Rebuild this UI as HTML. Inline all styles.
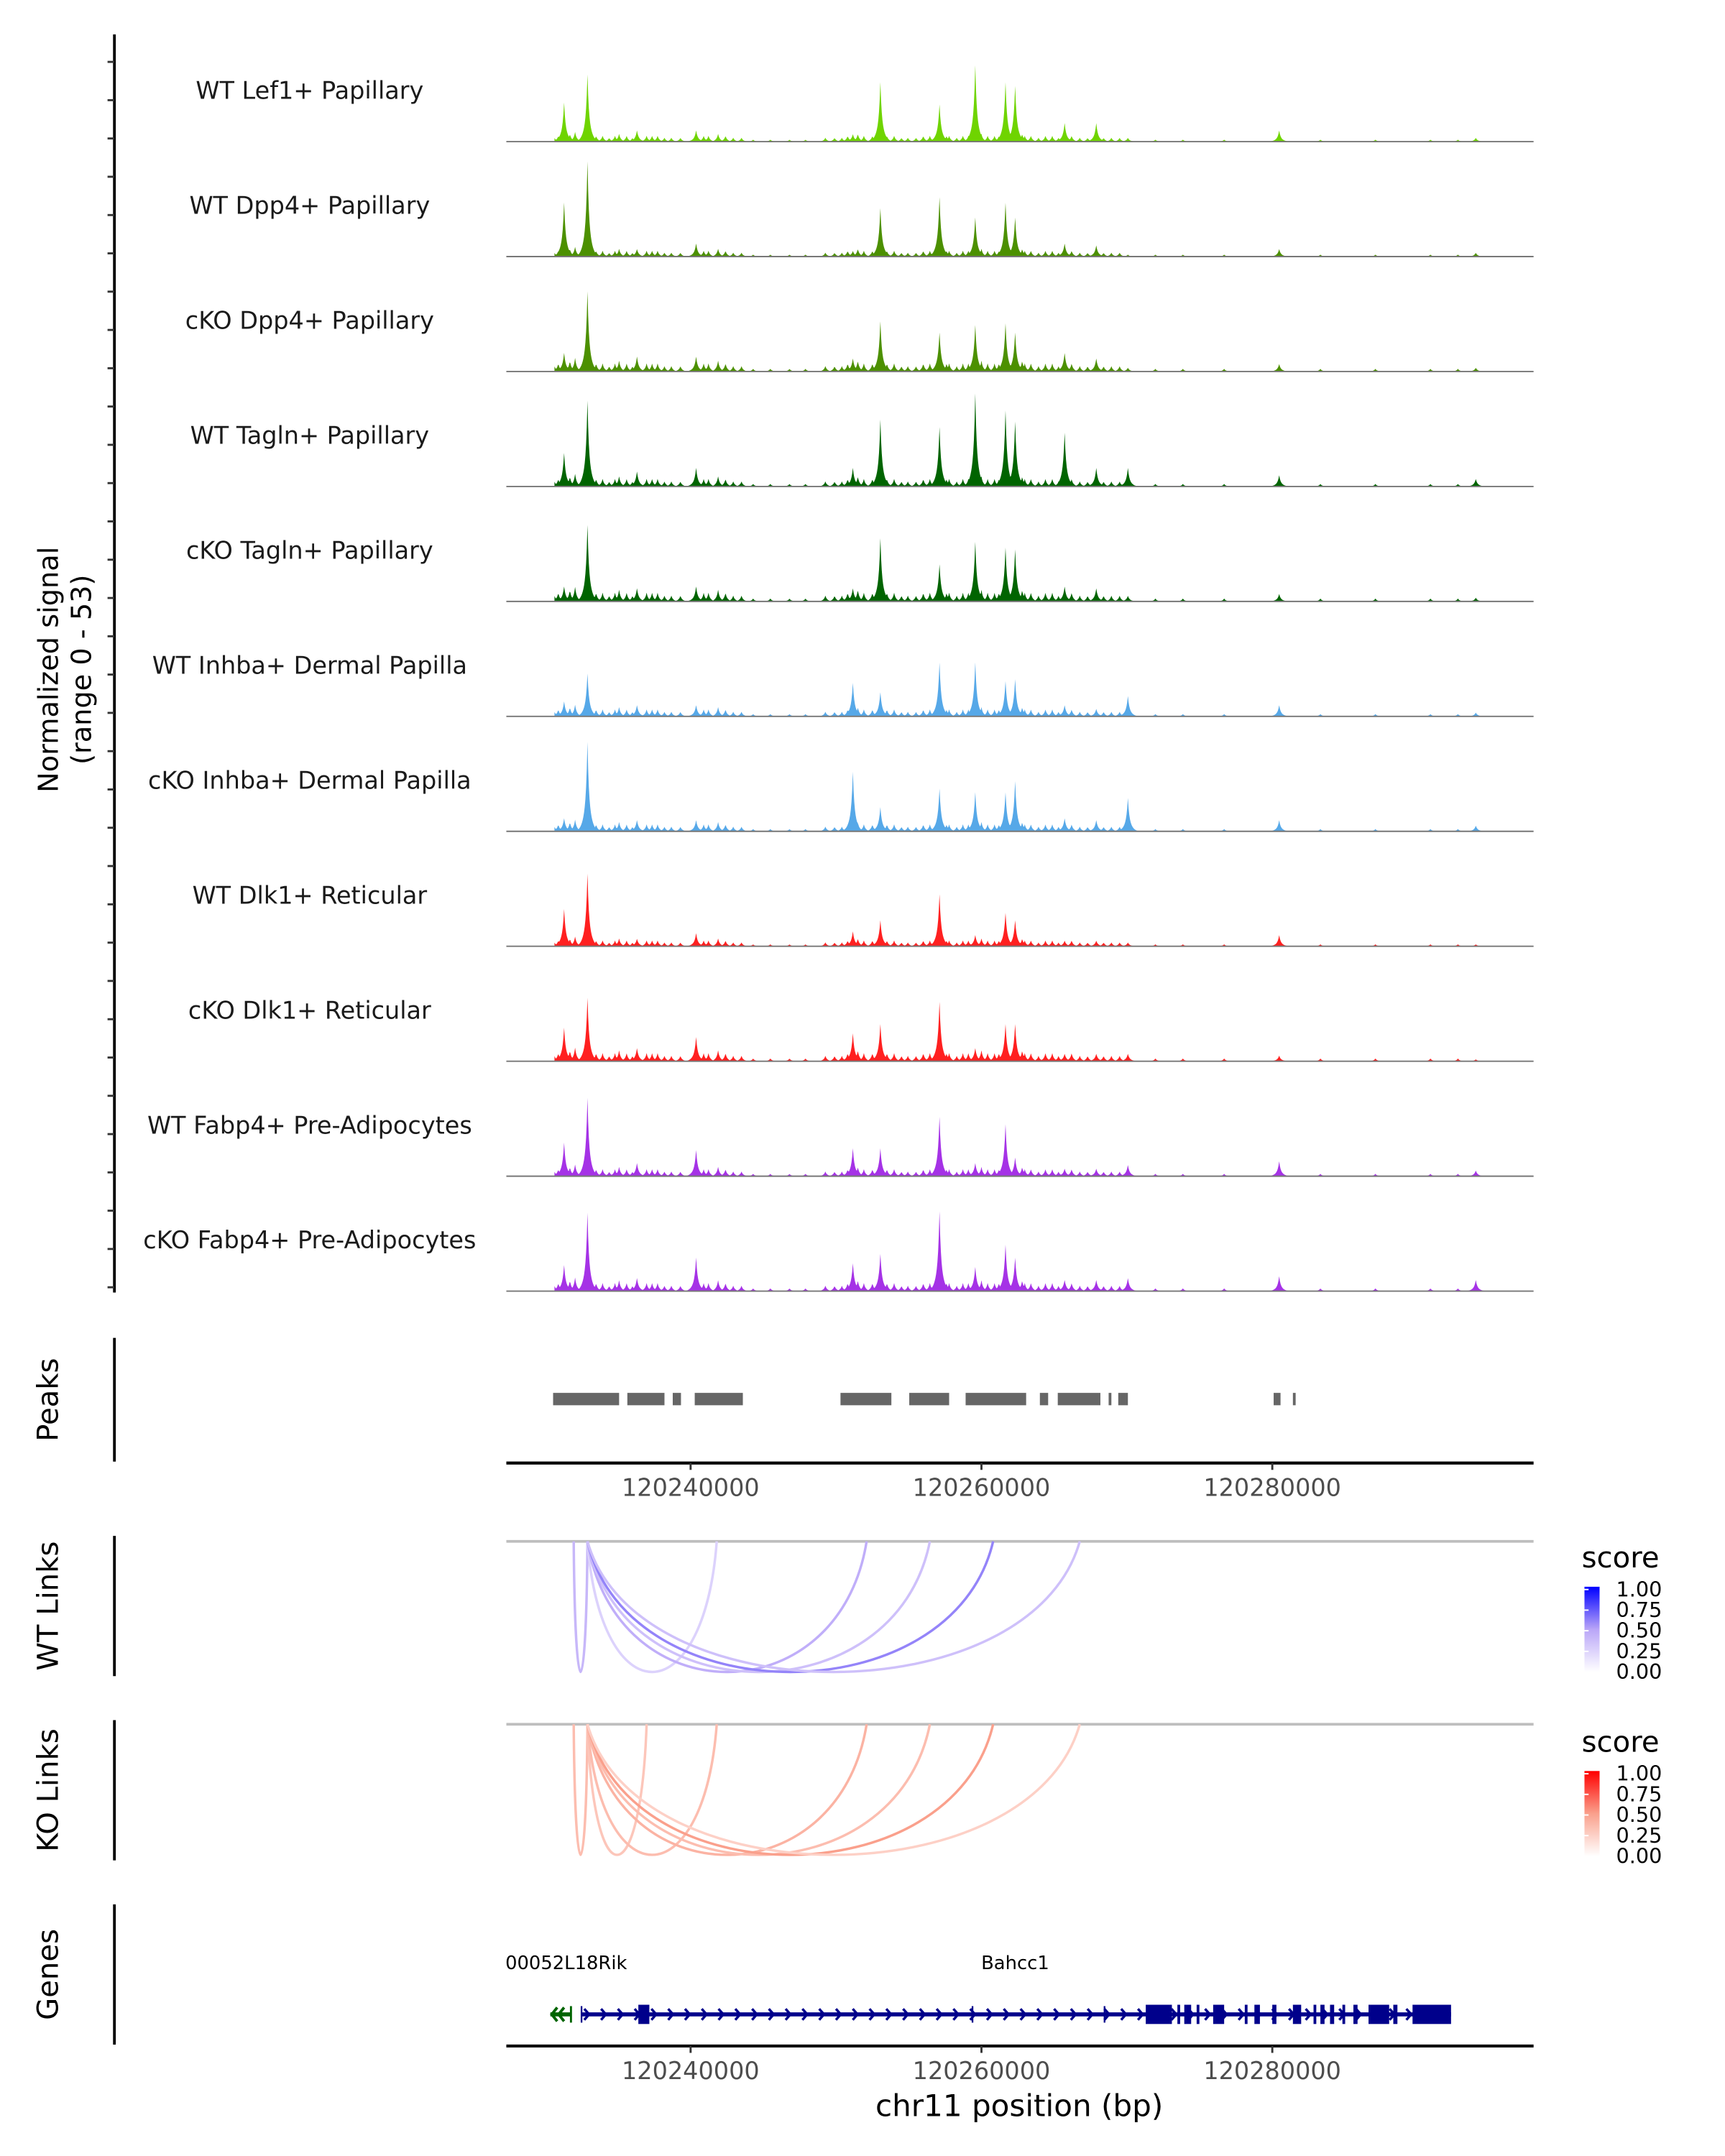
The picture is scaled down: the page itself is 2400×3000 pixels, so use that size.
<!DOCTYPE html>
<html><head><meta charset="utf-8">
<style>
html,body{margin:0;padding:0;background:#fff;}
svg{display:block;font-family:"DejaVu Sans","Liberation Sans",sans-serif;}
</style></head>
<body>
<svg id="chart" width="2400" height="3000" viewBox="0 0 1254 1568" xmlns="http://www.w3.org/2000/svg">
</svg>
<script>
// ---- data ----
const trackNames = ["WT Lef1+ Papillary","WT Dpp4+ Papillary","cKO Dpp4+ Papillary","WT Tagln+ Papillary","cKO Tagln+ Papillary","WT Inhba+ Dermal Papilla","cKO Inhba+ Dermal Papilla","WT Dlk1+ Reticular","cKO Dlk1+ Reticular","WT Fabp4+ Pre-Adipocytes","cKO Fabp4+ Pre-Adipocytes"];
const trackColors = ["#6FD400","#4C9000","#4C9000","#006400","#006400","#56A8E8","#56A8E8","#FF2020","#FF2020","#A532E6","#A532E6"];
const peakPos = [120231300,120232908,120236312,120240378,120251158,120253049,120257115,120259574,120261654,120262316,120265720,120267895,120270070,120280472,120293994];
const h1 = [21,36,6,6,4,32,20,41,32,30,10,10,2,6,2];
const h2 = [29,51,4,7,3,26,32,21,29,21,7,6,1,4,2];
const h3 = [10,43,8,8,7,27,21,25,26,21,10,7,2,4,2];
const h4 = [18,46,8,10,10,36,32,50,41,35,29,10,10,6,4];
const h5 = [8,41,7,8,7,34,20,32,29,28,8,7,3,4,2];
const h6 = [8,23,6,6,18,13,29,29,19,20,6,4,11,6,2];
const h7 = [7,48,6,6,32,13,23,21,21,27,7,6,18,6,3];
const h8 = [20,39,4,7,8,14,28,6,18,14,3,3,2,6,1];
const h9 = [18,34,7,13,15,20,32,7,20,20,4,4,4,3,1];
const h10 = [18,42,7,14,15,15,32,7,28,10,4,4,6,8,3];
const h11 = [14,42,7,18,15,20,43,13,25,18,6,6,7,8,6];
const trackHeights = [h1,h2,h3,h4,h5,h6,h7,h8,h9,h10,h11];
const minorPos = [120230544,120230900,120231700,120232057,120233500,120233948,120234400,120234800,120235083,120235600,120236000,120236974,120237350,120237731,120238200,120238676,120239300,120240900,120241229,120241891,120242400,120242931,120243500,120244300,120245484,120246800,120247900,120249267,120249900,120250402,120250800,120251500,120251915,120252500,120253500,120253995,120254500,120254940,120255500,120256000,120256453,120257600,120257777,120258300,120258723,120259100,120260000,120260425,120260900,120261200,120262800,120262978,120263400,120263924,120264400,120264869,120265300,120266200,120266761,120267300,120268400,120268935,120269500,120271961,120273852,120276689,120283308,120287091,120290873,120292764];
const minorH = [4,3,4,5,3,3,2,3,4,3,2,3,3,3,2,2,2,3,3,4,3,2,2,1,1,1,1,2,2,2,3,4,3,3,3,3,2,2,2,3,3,3,3,2,3,3,4,3,3,3,4,3,3,2,3,3,2,3,2,2,2,2,2,1,1,1,1,1,1,1];
const minorFactor = [1,1,1.4,1.3,1.5,1.2,1.2,1,1.4,1.2,1.4];
const yMax = 53;
const peakStarts = [120230544,120235650,120238771,120240284,120250307,120255035,120258912,120264018,120265248,120268746,120269408,120280093,120281417];
const peakEnds   = [120235083,120238203,120239338,120243593,120253806,120257777,120263073,120264586,120268179,120268935,120270070,120280566,120281606];
const xTicks = [120240000,120260000,120280000];
const wtLinkStart = [120231962,120232908,120232908,120232908,120232908,120232908];
const wtLinkEnd   = [120232908,120241797,120252104,120256453,120260803,120266761];
const wtLinkScore = [0.4,0.25,0.45,0.35,0.6,0.35];
const koLinkStart = [120231962,120232908,120232908,120232908,120232908,120232908,120232908];
const koLinkEnd   = [120232908,120236974,120241797,120252104,120256453,120260803,120266761];
const koLinkScore = [0.35,0.3,0.35,0.4,0.35,0.5,0.25];
const legendTicks = ["1.00","0.75","0.50","0.25","0.00"];
const geneStart = 120232500, geneEnd = 120292292;
const greenGeneStart = 120230355, greenGeneEnd = 120231773;
const exonStarts = [120236407,120271299,120273474,120273947,120274798,120275933,120278108,120278770,120279999,120281417,120282836,120283308,120283970,120284821,120285578,120286618,120288320,120289644];
const exonEnds   = [120237163,120273096,120273663,120274420,120274987,120276689,120278297,120279148,120280283,120281985,120283025,120283592,120284254,120285010,120285862,120288036,120288604,120292292];
const geneLabels = ["00052L18Rik","Bahcc1"];
const geneLabelPos = [120227260,120259980];

// ---- helpers ----
const NS="http://www.w3.org/2000/svg";
const svg=document.getElementById('chart');
function el(tag,attrs,parent){const e=document.createElementNS(NS,tag);for(const k in attrs)e.setAttribute(k,attrs[k]);(parent||svg).appendChild(e);return e;}
const X0=368,X1=1115;
function xs(bp){return 502+(bp-120240000)*211.5/20000;}
const trackH=83.6;
function base(i){return 103+i*trackH;}
function ys(i,v){return base(i)-v*75/yMax;}

let ax=el('line',{x1:83,y1:25,x2:83,y2:940,stroke:'#000','stroke-width':2});


for(let k=0;k<33;k++){const y=45+k*27.85;const t=el('line',{x1:78,y1:y,x2:83,y2:y,stroke:'#333','stroke-width':1.5});

}
let yt=el('text',{transform:'translate(42,487) rotate(-90)','text-anchor':'middle','font-size':20,fill:'#000'});


yt.textContent='Normalized signal';
let yt2=el('text',{transform:'translate(66,487) rotate(-90)','text-anchor':'middle','font-size':20,fill:'#000'});


yt2.textContent='(range 0 - 53)';

trackNames.forEach((name,i)=>{
  const g=el('g',{});
  
  
  const b=base(i);
  const hs=trackHeights[i];
  let pts=[];
  for(let px=X0+35;px<=1083;px+=0.5){
    let v=0;
    for(let j=0;j<peakPos.length;j++){
      const dx=px-xs(peakPos[j]);
      const c=hs[j]*(0.8*Math.exp(-Math.abs(dx)/1.1)+0.16*Math.exp(-(dx/4.5)*(dx/4.5)));
      if(c>v)v=c;
    }
    for(let j=0;j<minorPos.length;j++){
      const dx=px-xs(minorPos[j]);
      const c=minorH[j]*minorFactor[i]*(0.7*Math.exp(-Math.abs(dx)/0.8)+0.3*Math.exp(-(dx/3)*(dx/3)));
      if(c>v)v=c;
    }
    pts.push(px.toFixed(1)+','+ys(i,v).toFixed(2));
  }
  const area=el('polygon',{points:(X0+35)+','+b+' '+pts.join(' ')+' 1083,'+b,fill:trackColors[i],stroke:'none'},g);
  
  
  const bl=el('line',{x1:X0,y1:b,x2:X1,y2:b,stroke:'#777','stroke-width':1},g);
  
  
  const lab=el('text',{x:225,y:b-31,'text-anchor':'middle','font-size':17.5,fill:'#1a1a1a'},g);
  
  
  lab.textContent=name;
});

function section(title,y1,y2,name){
  const l=el('line',{x1:83,y1:y1,x2:83,y2:y2,stroke:'#000','stroke-width':2});
  
  
  const t=el('text',{transform:'translate(42,'+((y1+y2)/2)+') rotate(-90)','text-anchor':'middle','font-size':21,fill:'#000'});
  
  
  t.textContent=title;
}
section('Peaks',973,1063,'peaks');
section('WT Links',1117,1219,'wt-links');
section('KO Links',1251,1353,'ko-links');
section('Genes',1385,1487,'genes');

peakStarts.forEach((s,i)=>{
  const r=el('rect',{x:xs(s),y:1013,width:Math.max(1.5,xs(peakEnds[i])-xs(s)),height:9,fill:'#666'});
  
  
});

function xAxis(y,name){
  const l=el('line',{x1:X0,y1:y,x2:X1,y2:y,stroke:'#000','stroke-width':2.2});
  
  
  xTicks.forEach(t=>{
    const tk=el('line',{x1:xs(t),y1:y,x2:xs(t),y2:y+5,stroke:'#333','stroke-width':1.5});
    
    
    const tl=el('text',{x:xs(t),y:y+24,'text-anchor':'middle','font-size':17.5,fill:'#4d4d4d'});
    
    
    tl.textContent=String(t);
  });
}
xAxis(1064,'peaks-x-axis');
xAxis(1488,'genes-x-axis');
const xt=el('text',{x:741,y:1539,'text-anchor':'middle','font-size':22,fill:'#000'});


xt.textContent='chr11 position (bp)';

function mix(a,b,t){return Math.round(a+(b-a)*t);}
function blueCol(s){const m=[185,165,248];if(s<0.5){const t=s/0.5;return `rgb(${mix(255,m[0],t)},${mix(255,m[1],t)},${mix(255,m[2],t)})`;}const t=(s-0.5)/0.5;return `rgb(${mix(m[0],0,t)},${mix(m[1],0,t)},${mix(m[2],255,t)})`;}
function redCol(s){const m=[250,160,140];if(s<0.5){const t=s/0.5;return `rgb(${mix(255,m[0],t)},${mix(255,m[1],t)},${mix(255,m[2],t)})`;}const t=(s-0.5)/0.5;return `rgb(${mix(m[0],255,t)},${mix(m[1],0,t)},${mix(m[2],0,t)})`;}
function links(y0,starts,ends,scores,colf,name){
  const gl=el('line',{x1:X0,y1:y0,x2:X1,y2:y0,stroke:'#bebebe','stroke-width':2});
  
  
  const d=95;
  starts.forEach((s,i)=>{
    const a=xs(s),b=xs(ends[i]);
    const p=el('path',{d:`M${a},${y0} C${a+(b-a)*0.1},${y0+d*1.333} ${b-(b-a)*0.1},${y0+d*1.333} ${b},${y0}`,fill:'none',stroke:colf(scores[i]),'stroke-width':1.8});
    
    
  });
}
links(1121,wtLinkStart,wtLinkEnd,wtLinkScore,blueCol,'wt-link');
links(1254,koLinkStart,koLinkEnd,koLinkScore,redCol,'ko-link');

function legend(y,colf,id,name){
  const t=el('text',{x:1150,y:y,'font-size':21,fill:'#000'});
  
  
  t.textContent='score';
  const defs=el('defs',{});
  const lg=el('linearGradient',{id:id,x1:0,y1:1,x2:0,y2:0},defs);
  for(let k=0;k<=10;k++){el('stop',{offset:k/10,'stop-color':colf(k/10)},lg);}
  const r=el('rect',{x:1152,y:y+14,width:11,height:62,fill:`url(#${id})`});
  
  
  legendTicks.forEach((lbl,k)=>{
    const ty=y+16+k*15;
    el('line',{x1:1152,y1:ty,x2:1155,y2:ty,stroke:'#fff','stroke-width':1});
    const tl=el('text',{x:1175,y:ty+5,'font-size':15,fill:'#000'});
    
    
    tl.textContent=lbl;
  });
}
legend(1140,blueCol,'gb','wt-legend');
legend(1274,redCol,'gr','ko-legend');

const gy=1465;
const gline=el('line',{x1:xs(geneStart),y1:gy,x2:xs(geneEnd),y2:gy,stroke:'#00008B','stroke-width':3});


for(let px=xs(geneStart)+4;px<xs(geneEnd);px+=12.2){
  el('path',{d:`M${px-2},${gy-4} L${px+1.5},${gy} L${px-2},${gy+4}`,fill:'none',stroke:'#00008B','stroke-width':1.8});
}
[xs(geneStart),707,803].forEach(px=>el('line',{x1:px,y1:gy-6,x2:px,y2:gy+6,stroke:'#00008B','stroke-width':1.2}));
exonStarts.forEach((s,i)=>{
  const r=el('rect',{x:xs(s),y:gy-7,width:Math.max(1.5,xs(exonEnds[i])-xs(s)),height:14,fill:'#00008B'});
  
  
});
const gg=el('g',{});


el('line',{x1:xs(greenGeneStart),y1:gy,x2:xs(greenGeneEnd),y2:gy,stroke:'#006400','stroke-width':3},gg);
el('path',{d:`M${xs(greenGeneStart)+5},${gy-5} L${xs(greenGeneStart)+1},${gy} L${xs(greenGeneStart)+5},${gy+5} M${xs(greenGeneStart)+10},${gy-5} L${xs(greenGeneStart)+6},${gy} L${xs(greenGeneStart)+10},${gy+5}`,fill:'none',stroke:'#006400','stroke-width':2},gg);
el('line',{x1:xs(greenGeneEnd),y1:gy-6,x2:xs(greenGeneEnd),y2:gy+6,stroke:'#006400','stroke-width':1.5},gg);
geneLabels.forEach((g,i)=>{
  const t=el('text',{x:xs(geneLabelPos[i]),y:1432,'font-size':13.5,fill:'#000'});
  
  
  t.textContent=g;
});
</script>
</body></html>
